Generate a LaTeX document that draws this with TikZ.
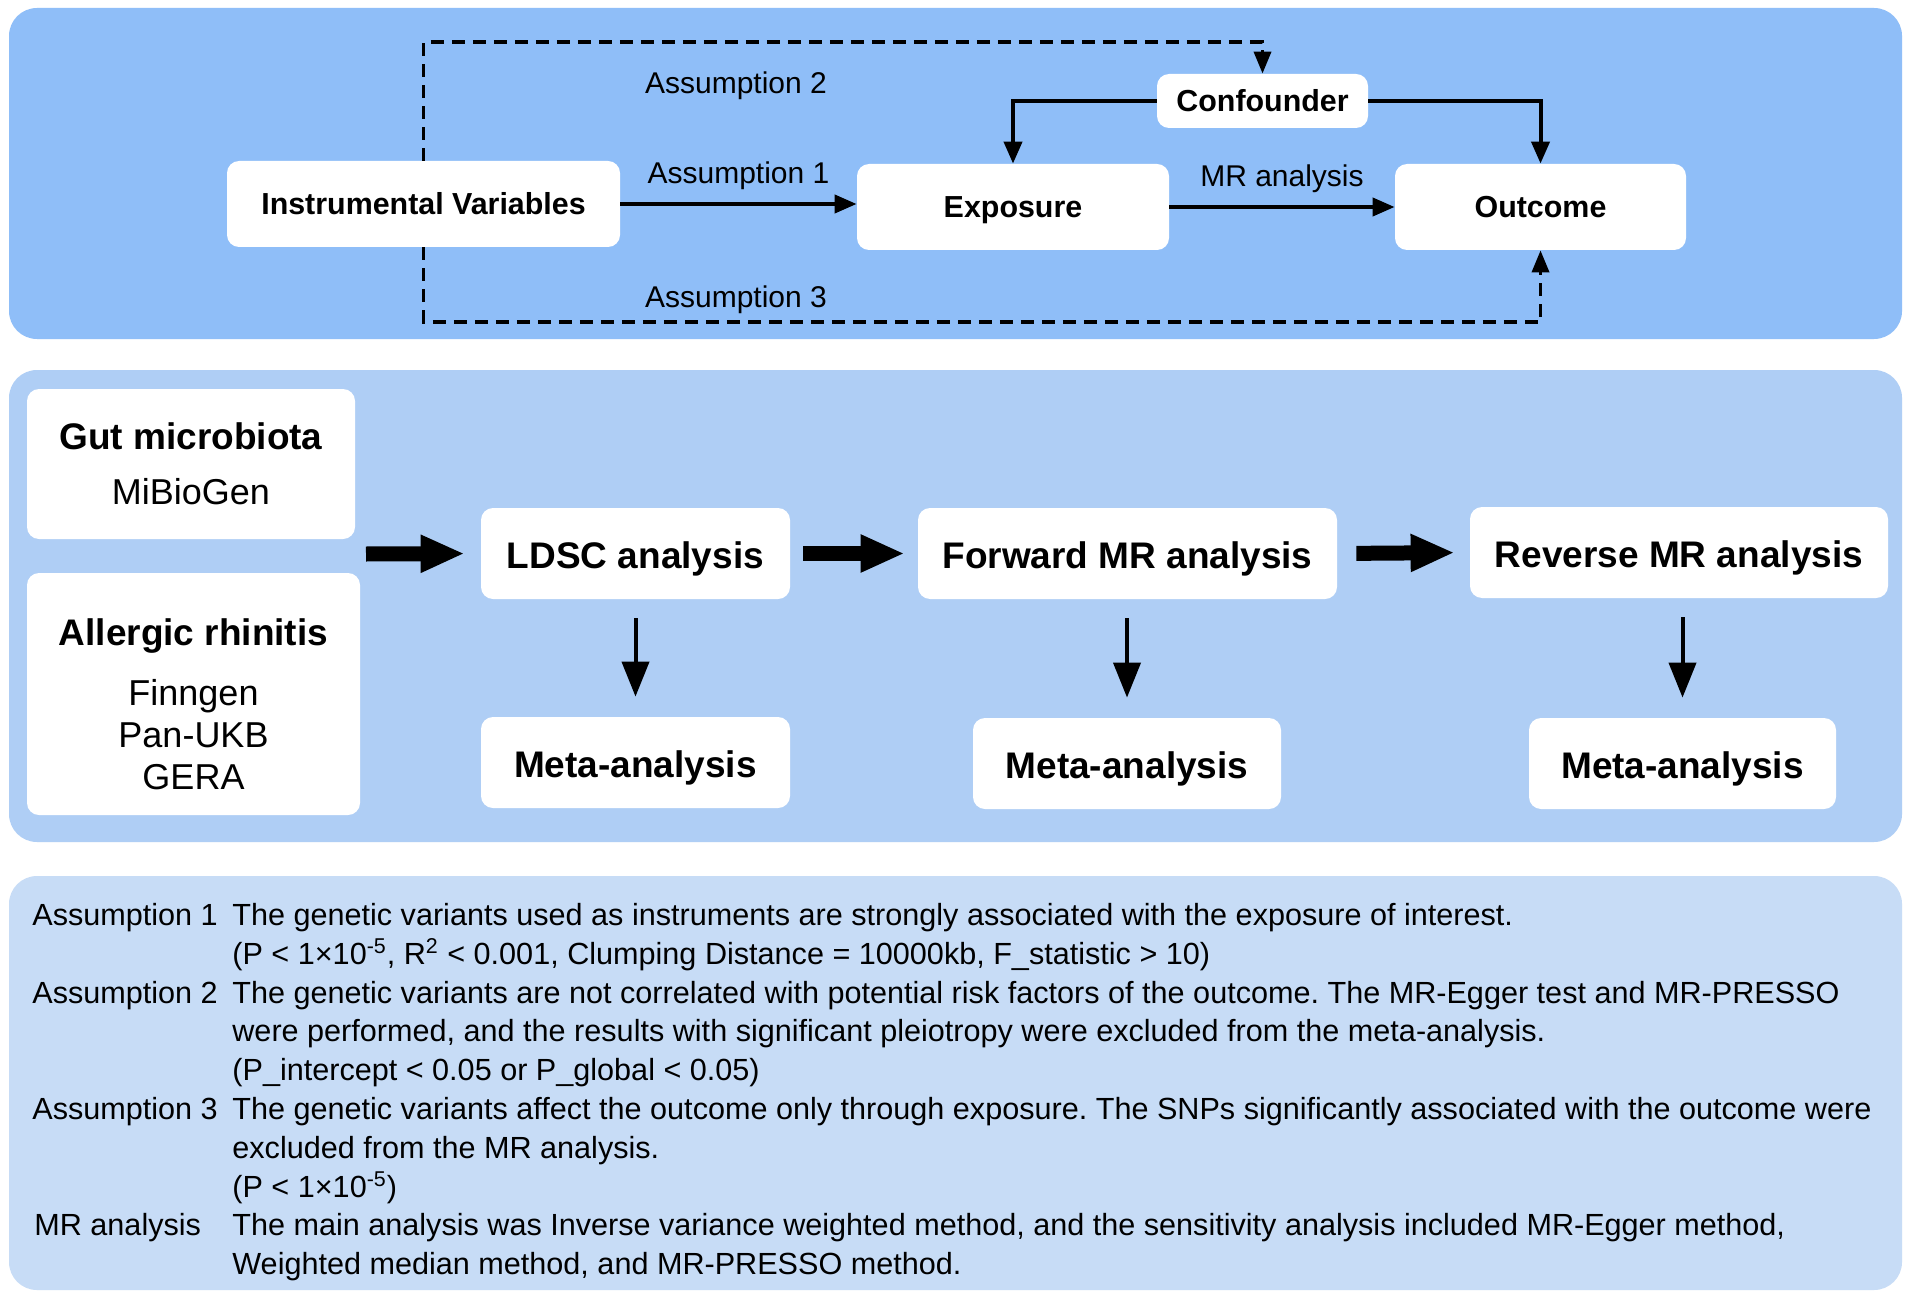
\documentclass[tikz,border=0pt]{standalone}
\usepackage{fontspec}
\setmainfont{Liberation Sans}
\usetikzlibrary{arrows.meta}
\definecolor{panelA}{HTML}{8FBEF8}
\definecolor{panelB}{HTML}{AFCEF5}
\definecolor{panelC}{HTML}{C7DCF6}
\begin{document}
\frenchspacing
\begin{tikzpicture}[x=0.5pt,y=-0.5pt,
  panel/.style={rounded corners=14pt},
  box/.style={fill=white, rounded corners=6pt, inner sep=0pt, align=center},
  fonttop/.style={font=\fontsize{15}{18}\selectfont},
  boldtop/.style={font=\fontsize{15.2}{18}\selectfont\bfseries, text height=10.9pt, text depth=0pt},
  fontmid/.style={font=\fontsize{18.5}{22}\selectfont\bfseries, text height=15pt, text depth=0pt},
  thinarrow/.style={line width=2pt, -{Triangle[length=11pt,width=9pt]}},
  dline/.style={line width=1.8pt, dash pattern=on 6.5pt off 4pt, -{Triangle[length=11pt,width=8.5pt]}},
  vertarrow/.style={line width=2pt, -{Triangle[length=17.5pt,width=13.5pt]}},
  bigarrow/.style={line width=7.5pt, -{Triangle[length=22pt,width=17.5pt]}}
]
\useasboundingbox (0,0) rectangle (1914,1299);
\fill[white] (0,0) rectangle (1914,1299);
% panels
\fill[panelA, panel] (9,8) rectangle (1902,339);
\fill[panelB, panel] (9,370) rectangle (1902,842);
\fill[panelC, panel] (9,876) rectangle (1902,1290);

% ---------- panel 1 ----------
\node[box, boldtop, minimum width=196.5pt, minimum height=43pt] (iv) at (423.5,204) {Instrumental Variables};
\node[box, boldtop, minimum width=105.5pt, minimum height=27pt] (conf) at (1262.5,101) {Confounder};
\node[box, boldtop, minimum width=156pt, minimum height=43pt] (expo) at (1013,207) {Exposure};
\node[box, boldtop, minimum width=145.5pt, minimum height=43pt] (outc) at (1540.5,207) {Outcome};

\coordinate (dtop) at (0,42);
\coordinate (dbot) at (0,322);

\draw[thinarrow] (iv.east) -- (iv.east -| expo.west)
  node[midway, above=3pt, fonttop] (a1) {Assumption 1};
\draw[thinarrow] (expo.east) -- (expo.east -| outc.west)
  node[midway, above=3pt, fonttop] (mra) {MR analysis};
\draw[thinarrow] (conf.west) -| (expo.north);
\draw[thinarrow] (conf.east) -| (outc.north);
\draw[dline] (iv.north) -- (iv.north |- dtop) -- (conf.north |- dtop) -- (conf.north);
\draw[dline] (iv.south) -- (iv.south |- dbot) -- (outc.south |- dbot) -- (outc.south);
\node[fonttop] (a2) at (736,86) {Assumption 2};
\node[fonttop] (a3) at (736,300) {Assumption 3};

% ---------- panel 2 ----------
\node[box, minimum width=164pt, minimum height=75pt, font=\fontsize{18}{27.5}\selectfont] (gut) at (191,464)
  {{\fontsize{18.5}{22}\selectfont\bfseries Gut microbiota}\\MiBioGen};
\node[box, minimum width=166.5pt, minimum height=121pt, font=\fontsize{18}{21}\selectfont] (ar) at (193.5,694)
  {\rule{0pt}{23.5pt}{\fontsize{18.5}{22}\selectfont\bfseries Allergic rhinitis}\\[9pt]Finngen\\Pan-UKB\\GERA};
\node[box, fontmid, minimum width=154.5pt, minimum height=45.5pt] (ldsc) at (635.5,553.5) {LDSC analysis};
\node[box, fontmid, minimum width=209.5pt, minimum height=45.5pt] (fwd) at (1127.5,553.5) {Forward MR analysis};
\node[box, fontmid, minimum width=209pt, minimum height=45.5pt] (rev) at (1679,552.5) {Reverse MR analysis};
\node[box, fontmid, minimum width=154.5pt, minimum height=45.5pt] (meta1) at (635.5,762.5) {Meta-analysis};
\node[box, fontmid, minimum width=154pt, minimum height=45.5pt] (meta2) at (1127,763.5) {Meta-analysis};
\node[box, fontmid, minimum width=153.5pt, minimum height=45.5pt] (meta3) at (1682.5,763.5) {Meta-analysis};

\coordinate (src) at (366,554);
\draw[bigarrow, shorten >=8pt] (src) -- (ldsc.west);
\draw[bigarrow, shorten <=6.5pt, shorten >=6.5pt] (ldsc.east) -- (fwd.west);
\draw[bigarrow, shorten <=9.5pt, shorten >=7.5pt] (fwd.east) -- (rev.west);
\draw[vertarrow, shorten <=9.5pt, shorten >=10pt] (ldsc.south) -- (meta1.north);
\draw[vertarrow, shorten <=9.5pt, shorten >=10pt] (meta2.north |- fwd.south) -- (meta2.north);
\draw[vertarrow, shorten <=9.5pt, shorten >=10pt] (meta3.north |- rev.south) -- (meta3.north);

% ---------- panel 3 ----------
\node[anchor=north west, inner sep=0pt, align=left, font=\fontsize{15.3}{19.4}\selectfont] (notes) at (32,903) {%
\makebox[100pt][l]{Assumption 1}The genetic variants used as instruments are strongly associated with the exposure of interest.\\
\hspace*{100pt}(P < 1×10\textsuperscript{-5}, R\textsuperscript{2} < 0.001, Clumping Distance = 10000kb, F\_statistic > 10)\\
\makebox[100pt][l]{Assumption 2}The genetic variants are not correlated with potential risk factors of the outcome. The MR-Egger test and MR-PRESSO\\
\hspace*{100pt}were performed, and the results with significant pleiotropy were excluded from the meta-analysis.\\
\hspace*{100pt}(P\_intercept < 0.05 or P\_global < 0.05)\\
\makebox[100pt][l]{Assumption 3}The genetic variants affect the outcome only through exposure. The SNPs significantly associated with the outcome were\\
\hspace*{100pt}excluded from the MR analysis.\\
\hspace*{100pt}(P < 1×10\textsuperscript{-5})\\
\makebox[100pt][l]{\hspace*{1pt}MR analysis}The main analysis was Inverse variance weighted method, and the sensitivity analysis included MR-Egger method,\\
\hspace*{100pt}Weighted median method, and MR-PRESSO method.};
\end{tikzpicture}
\end{document}
